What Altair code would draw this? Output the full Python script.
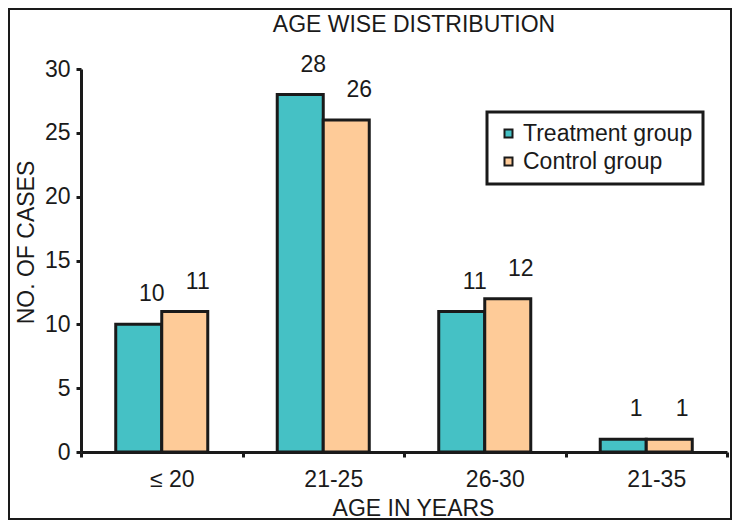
import altair as alt
import pandas as pd

categories = ["≤ 20", "21-25", "26-30", "21-35"]
groups = ["Treatment group", "Control group"]
treatment = [10, 28, 11, 1]
control = [11, 26, 12, 1]
colors = ["#45C1C5", "#FECB98"]

rows = []
for c, t, k in zip(categories, treatment, control):
    rows.append({"age": c, "group": groups[0], "cases": t})
    rows.append({"age": c, "group": groups[1], "cases": k})
df = pd.DataFrame(rows)

FONT = "Liberation Sans"
INK = "#1a1a1a"
FS = 23

x_enc = alt.X("age:N", sort=categories,
              scale=alt.Scale(paddingInner=0, paddingOuter=0),
              axis=alt.Axis(title="AGE IN YEARS", labelAngle=0, tickBand="extent",
                            labelFontSize=FS, labelFont=FONT, labelColor=INK,
                            labelOffset=10, labelBaseline="alphabetic", labelPadding=29,
                            tickSize=5, tickWidth=3, tickColor=INK,
                            domainWidth=3, domainColor=INK,
                            titleFontSize=FS, titleFont=FONT, titleFontWeight="normal",
                            titleColor=INK, titleX=332, titleY=63,
                            titleBaseline="alphabetic", titleAlign="center"))
xo_enc = alt.XOffset("group:N", sort=groups,
                     scale=alt.Scale(paddingOuter=0.755, paddingInner=0))
y_enc = alt.Y("cases:Q", scale=alt.Scale(domain=[0, 30], nice=False),
              axis=alt.Axis(title="NO. OF CASES", values=[0, 5, 10, 15, 20, 25, 30],
                            grid=False, labelFontSize=FS, labelFont=FONT, labelColor=INK,
                            labelPadding=6, tickSize=5, tickWidth=3, tickColor=INK,
                            domainWidth=3, domainColor=INK,
                            titleFontSize=FS, titleFont=FONT, titleFontWeight="normal",
                            titleColor=INK, titleX=-48, titleY=173, titleAngle=270,
                            titleBaseline="alphabetic", titleAlign="center"))

bars = alt.Chart(df).mark_bar(stroke=INK, strokeWidth=3).encode(
    x=x_enc, xOffset=xo_enc, y=y_enc,
    color=alt.Color("group:N", sort=groups,
                    scale=alt.Scale(domain=groups, range=colors),
                    legend=alt.Legend(title=None, orient="none", legendX=406, legendY=43,
                                      symbolType="square", symbolSize=64,
                                      symbolStrokeColor=INK, symbolStrokeWidth=2,
                                      labelFontSize=FS, labelFont=FONT, labelColor=INK,
                                      labelOffset=3, labelLimit=400, rowPadding=4,
                                      padding=10, strokeColor=INK)),
)

labels = alt.Chart(df).mark_text(fontSize=FS, font=FONT, color=INK, dx=13, dy=-23,
                                 baseline="alphabetic").encode(
    x=x_enc, xOffset=xo_enc, y=y_enc, text="cases:Q")

frame = alt.Chart(alt.Data(values=[{"f": 1}])).mark_rect(
    fill="transparent", stroke=INK, strokeWidth=2).encode(
    x=alt.value(-72), x2=alt.value(650), y=alt.value(-60), y2=alt.value(450))

chart = alt.layer(bars, labels, frame).properties(
    width=646, height=383,
    title=alt.TitleParams("AGE WISE DISTRIBUTION", fontSize=FS, font=FONT,
                          fontWeight="normal", color=INK, dx=10,
                          offset=-47, baseline="alphabetic"),
    autosize=alt.AutoSizeParams(type="none"),
    padding={"left": 73, "top": 61, "right": 5, "bottom": 68},
).configure_view(stroke=None).configure_legend(strokeWidth=3)

chart.save("out.html", embed_options={"renderer": "svg", "actions": False})
